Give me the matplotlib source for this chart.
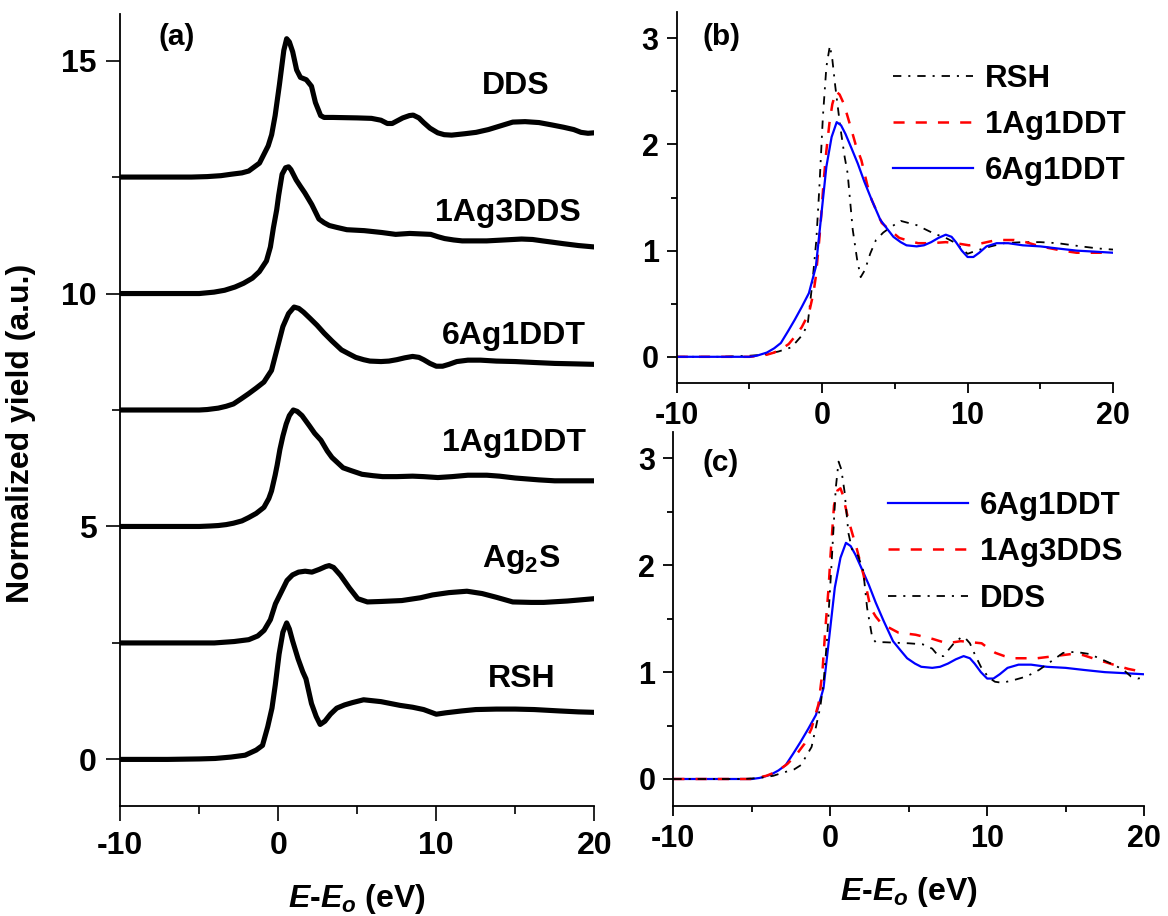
import numpy as np
import matplotlib
matplotlib.use("Agg")
import matplotlib.pyplot as plt
from matplotlib.ticker import MultipleLocator

plt.rcParams['font.family'] = ['Liberation Sans', 'DejaVu Sans']
plt.rcParams['font.weight'] = 'bold'
plt.rcParams['mathtext.fontset'] = 'custom'
plt.rcParams['mathtext.rm'] = 'Liberation Sans:bold'
plt.rcParams['mathtext.bf'] = 'Liberation Sans:bold'
plt.rcParams['mathtext.it'] = 'Liberation Sans:bold:italic'
plt.rcParams['lines.scale_dashes'] = False
plt.rcParams['axes.unicode_minus'] = False

# spectra (energy in eV, normalized yield)
e_rsh = [-10, -7, -5, -4, -3, -2.1, -1.4, -1.0, -0.67, -0.4, -0.19, 0.05, 0.29, 0.53, 0.7,
         0.9, 1.25, 1.55, 1.75, 2.1, 2.4, 2.65, 2.95, 3.3, 3.7, 4.2, 4.7, 5.4, 6.5, 7.7,
         8.5, 9.2, 10.0, 10.6, 11.6, 12.5, 13.8, 15.0, 16.2, 17.8, 19.0, 20.0]
y_rsh = [0, 0, 0.01, 0.02, 0.05, 0.09, 0.2, 0.3, 0.7, 1.1, 1.6, 2.26, 2.73, 2.93, 2.8,
         2.55, 2.16, 1.88, 1.73, 1.2, 0.92, 0.75, 0.82, 0.97, 1.1, 1.17, 1.22, 1.28, 1.24, 1.16,
         1.12, 1.07, 0.97, 1.0, 1.04, 1.07, 1.08, 1.08, 1.07, 1.04, 1.02, 1.01]

e_ag2s = [-10, -7, -4.05, -2.8, -1.87, -1.3, -0.9, -0.5, -0.18, 0.2, 0.55, 0.9, 1.28, 1.7,
          2.13, 2.6, 3.0, 3.22, 3.5, 3.94, 4.5, 5.03, 5.64, 6.5, 7.82, 9.0, 9.76, 10.8,
          11.94, 12.9, 13.8, 14.84, 16.0, 16.8, 18.3, 20.0]
y_ag2s = [0, 0, 0, 0.03, 0.07, 0.15, 0.27, 0.5, 0.84, 1.1, 1.34, 1.46, 1.52, 1.54,
          1.52, 1.58, 1.64, 1.66, 1.62, 1.45, 1.18, 0.95, 0.88, 0.89, 0.91, 0.97, 1.03, 1.08,
          1.11, 1.06, 0.98, 0.88, 0.87, 0.87, 0.9, 0.95]

e_1ag1ddt = [-10, -7, -5, -4.3, -3.8, -3.3, -2.84, -2.3, -1.88, -1.4, -0.91, -0.6, -0.43,
             -0.2, -0.07, 0.1, 0.29, 0.5, 0.7, 0.95, 1.2, 1.5, 1.97, 2.3, 2.7, 3.1, 3.4,
             4.1, 4.6, 5.3, 6.0, 6.6, 7.5, 8.5, 9.2, 10.1, 11.0, 12.0, 13.2, 14.0, 15.0,
             16.5, 17.5, 18.8, 20.0]
y_1ag1ddt = [0, 0, 0, 0.01, 0.02, 0.04, 0.07, 0.12, 0.19, 0.28, 0.41, 0.6, 0.76,
             1.1, 1.32, 1.65, 1.94, 2.2, 2.38, 2.5, 2.47, 2.38, 2.16, 2.0, 1.85, 1.62, 1.48,
             1.26, 1.2, 1.12, 1.09, 1.07, 1.07, 1.08, 1.07, 1.05, 1.07, 1.1, 1.1, 1.08, 1.04,
             1.0, 0.98, 0.98, 0.98]

e_6ag1ddt = [-10, -7, -5, -4.5, -3.8, -3.3, -2.84, -2.35, -1.88, -1.4, -0.91, -0.43, -0.07,
             0.29, 0.65, 1.0, 1.3, 1.6, 2.0, 2.45, 2.9, 3.4, 4.0, 4.5, 4.9, 5.4, 5.8, 6.5,
             7.0, 7.5, 8.0, 8.5, 8.9, 9.2, 9.6, 10.0, 10.4, 10.8, 11.3, 12.0, 12.8, 13.8,
             15.0, 16.2, 17.5, 18.8, 20.0]
y_6ag1ddt = [0, 0, 0, 0.01, 0.04, 0.08, 0.13, 0.24, 0.35, 0.47, 0.6, 0.85, 1.32,
             1.79, 2.07, 2.21, 2.18, 2.1, 1.97, 1.82, 1.65, 1.48, 1.29, 1.2, 1.13, 1.08, 1.05, 1.04,
             1.05, 1.08, 1.12, 1.15, 1.13, 1.08, 1.0, 0.94, 0.94, 0.98, 1.04, 1.07, 1.07, 1.05,
             1.04, 1.02, 1.0, 0.99, 0.98]

e_1ag3dds = [-10, -7, -5, -4.07, -3.4, -2.74, -2.2, -1.64, -1.2, -0.75, -0.5, -0.31, -0.1,
             0.02, 0.24, 0.46, 0.65, 0.8, 1.13, 1.4, 1.68, 2.12, 2.57, 2.9, 3.23, 3.7, 4.34,
             5.44, 6.55, 7.43, 8.32, 9.0, 9.65, 10.1, 10.53, 11.1, 11.64, 12.5, 13.19, 14.3,
             15.4, 16.1, 16.73, 17.4, 18.05, 19.0, 20.0]
y_1ag3dds = [0, 0, 0, 0.03, 0.07, 0.14, 0.22, 0.33, 0.47, 0.7, 1.0, 1.41, 1.8,
             2.1, 2.56, 2.7, 2.72, 2.66, 2.44, 2.3, 2.16, 1.91, 1.6, 1.52, 1.46, 1.42, 1.37,
             1.35, 1.31, 1.27, 1.29, 1.28, 1.27, 1.22, 1.18, 1.15, 1.13, 1.13, 1.13, 1.15,
             1.17, 1.16, 1.13, 1.1, 1.07, 1.03, 1.0]

e_dds = [-10, -7, -5.5, -4.5, -3.63, -3.0, -2.3, -1.87, -1.19, -0.64, -0.42, -0.2, 0.07,
         0.35, 0.53, 0.7, 0.91, 1.16, 1.4, 1.77, 2.1, 2.35, 2.68, 2.9, 3.45, 5.0, 5.9, 6.5,
         6.9, 7.21, 7.6, 7.88, 8.3, 8.54, 8.9, 9.2, 9.6, 10.09, 10.5, 10.97, 11.8, 12.52,
         13.3, 14.07, 14.84, 15.62, 16.5, 17.3, 18.05, 18.7, 19.16, 19.6, 20.0]
y_dds = [0, 0, 0, 0.01, 0.03, 0.06, 0.09, 0.13, 0.3, 0.67, 0.91, 1.32, 1.98,
         2.72, 2.97, 2.9, 2.69, 2.3, 2.14, 2.09, 1.95, 1.6, 1.32, 1.28, 1.28, 1.27, 1.26, 1.22,
         1.15, 1.15, 1.22, 1.27, 1.32, 1.33, 1.27, 1.17, 1.05, 0.95, 0.91, 0.9, 0.93, 0.96,
         1.02, 1.1, 1.18, 1.19, 1.17, 1.12, 1.07, 1.02, 0.96, 0.94, 0.95]

# panel (a): stacked spectra and their vertical offsets
stack_names = ['RSH', 'Ag$_2$S', '1Ag1DDT', '6Ag1DDT', '1Ag3DDS', 'DDS']
stack_e = [e_rsh, e_ag2s, e_1ag1ddt, e_6ag1ddt, e_1ag3dds, e_dds]
stack_y = [y_rsh, y_ag2s, y_1ag1ddt, y_6ag1ddt, y_1ag3dds, y_dds]
stack_offset = [0, 2.5, 5, 7.5, 10, 12.5]
label_pos = [(15.4, 1.55), (15.4, 4.12), (14.9, 6.63), (14.9, 8.92), (14.5, 11.56), (15.0, 14.29)]

fig = plt.figure(figsize=(11.68, 9.16), dpi=100)
ax_a = fig.add_axes([0.1030, 0.1201, 0.4058, 0.8646])
ax_b = fig.add_axes([0.5794, 0.5815, 0.3735, 0.4057])
ax_c = fig.add_axes([0.5765, 0.1204, 0.4030, 0.4083])

for e, y, off in zip(stack_e, stack_y, stack_offset):
    ax_a.plot(e, np.asarray(y) + off, color='black', lw=3.7, solid_joinstyle='round')
for name, (px, py) in zip(stack_names, label_pos):
    ax_a.text(px, py, name, fontsize=23, fontweight='bold', ha='center', va='baseline')

ax_a.set_xlim(-10, 20)
ax_a.set_ylim(-1, 16)
ax_a.xaxis.set_major_locator(MultipleLocator(10))
ax_a.xaxis.set_minor_locator(MultipleLocator(5))
ax_a.yaxis.set_major_locator(MultipleLocator(5))
ax_a.yaxis.set_minor_locator(MultipleLocator(2.5))
ax_a.tick_params(axis='x', which='major', labelsize=23, length=11, width=1.2, pad=7)
ax_a.tick_params(axis='y', which='major', labelsize=23, length=10, width=1.2, pad=7)
ax_a.tick_params(which='minor', length=6, width=1.2)
ax_a.set_xlabel('$E$-$E_o$ (eV)', fontsize=23, fontweight='bold', labelpad=15)
ax_a.set_ylabel('Normalized yield (a.u.)', fontsize=23, fontweight='bold')
ax_a.yaxis.set_label_coords(-0.177, 0.47)
ax_a.text(0.08, 0.971, '(a)', transform=ax_a.transAxes, fontsize=21.5,
          fontweight='bold', va='center', ha='left')

dashdot = (0, (6, 5, 1.5, 5))
dashed = (0, (8, 8))

# panel (b)
ax_b.plot(e_rsh, y_rsh, color='black', lw=1.3, ls=dashdot, label='RSH')
ax_b.plot(e_1ag1ddt, y_1ag1ddt, color='red', lw=1.8, ls=dashed, label='1Ag1DDT')
ax_b.plot(e_6ag1ddt, y_6ag1ddt, color='blue', lw=1.6, label='6Ag1DDT')

# panel (c)
ax_c.plot(e_6ag1ddt, y_6ag1ddt, color='blue', lw=1.6, label='6Ag1DDT')
ax_c.plot(e_1ag3dds, y_1ag3dds, color='red', lw=1.8, ls=dashed, label='1Ag3DDS')
ax_c.plot(e_dds, y_dds, color='black', lw=1.3, ls=dashdot, label='DDS')

for ax, tag, lx, ly, anchor in [(ax_b, '(b)', 0.058, 0.932, (0.495, 0.860)),
                                (ax_c, '(c)', 0.061, 0.916, (0.457, 0.841))]:
    ax.set_xlim(-10, 20)
    ax.set_ylim(-0.25, 3.25)
    ax.xaxis.set_major_locator(MultipleLocator(10))
    ax.xaxis.set_minor_locator(MultipleLocator(5))
    ax.yaxis.set_major_locator(MultipleLocator(1))
    ax.yaxis.set_minor_locator(MultipleLocator(0.5))
    ax.tick_params(which='major', labelsize=22, length=7, width=1.3, pad=6)
    ax.tick_params(which='minor', length=4, width=1.3)
    ax.text(lx, ly, tag, transform=ax.transAxes, fontsize=21.5,
            fontweight='bold', va='center', ha='left')
    ax.legend(loc='upper left', bbox_to_anchor=anchor, frameon=False,
              prop={'size': 22.5, 'weight': 'bold'}, handlelength=2.56,
              handletextpad=0.38, labelspacing=0.52, borderpad=0, borderaxespad=0)

ax_c.set_xlabel('$E$-$E_o$ (eV)', fontsize=23, fontweight='bold', labelpad=15)

for ax in (ax_a, ax_b, ax_c):
    for side in ('top', 'right'):
        ax.spines[side].set_visible(False)
    for side in ('left', 'bottom'):
        ax.spines[side].set_linewidth(1.3)

fig.canvas.draw()
for ax in (ax_a, ax_b, ax_c):
    for lab in ax.get_xticklabels() + ax.get_yticklabels():
        lab.set_fontweight('bold')

fig.savefig('out.png', dpi=100)
